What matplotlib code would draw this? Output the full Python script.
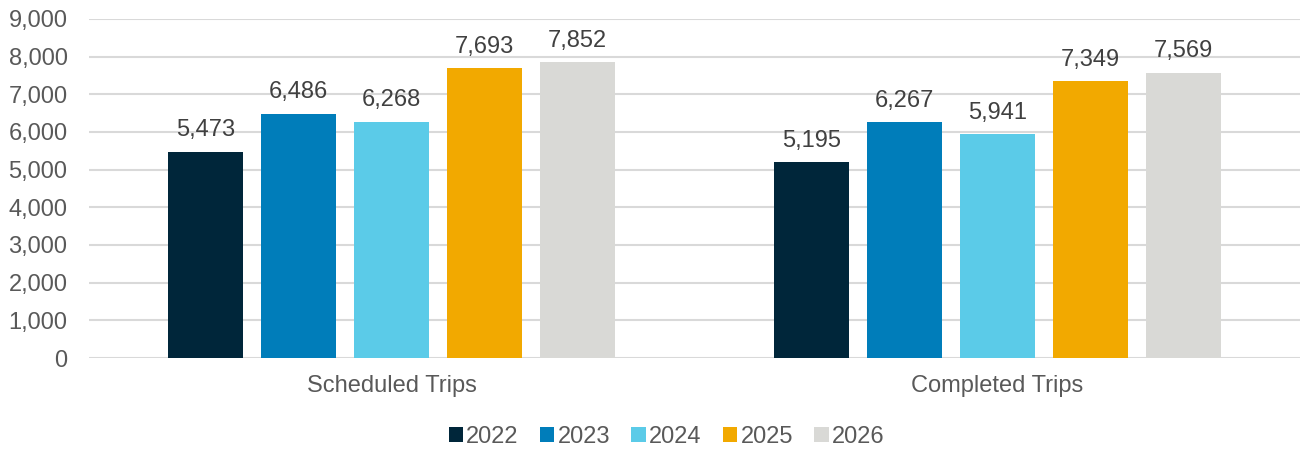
import numpy as np
import matplotlib.pyplot as plt
from matplotlib.patches import Patch

categories = ["Scheduled Trips", "Completed Trips"]
years = ["2022", "2023", "2024", "2025", "2026"]
trips = {
    "2022": [5473, 5195],
    "2023": [6486, 6267],
    "2024": [6268, 5941],
    "2025": [7693, 7349],
    "2026": [7852, 7569],
}
colors = ["#00263A", "#007DBA", "#5BCBE8", "#F2A900", "#D9D9D6"]

plt.rcParams["font.family"] = ["Liberation Sans", "DejaVu Sans"]
text_color = "#595959"
fs = 17

fig = plt.figure(figsize=(13.02, 4.51), dpi=100)
ax = fig.add_axes([0.0684, 0.2062, 0.9300, 0.7517])

x = np.arange(len(categories))
step = 0.1536
width = 0.124
for i, yr in enumerate(years):
    pos = x + (i - 2) * step
    bars = ax.bar(pos, trips[yr], width, color=colors[i], zorder=3)
    for b, v in zip(bars, trips[yr]):
        ax.annotate(f"{v:,}", (b.get_x() + b.get_width() / 2, v),
                    xytext=(0, 7.5), textcoords="offset points",
                    ha="center", va="bottom", fontsize=fs, color="#404040")

ax.set_xlim(-0.5, 1.5)
ax.set_ylim(0, 9000)
ax.set_yticks(range(0, 9001, 1000))
ax.yaxis.set_major_formatter(plt.FuncFormatter(lambda v, p: f"{int(v):,}"))
ax.set_xticks(x)
ax.set_xticklabels(categories)
ax.tick_params(axis="both", length=0, labelsize=fs, labelcolor=text_color)
ax.tick_params(axis="y", pad=15.5)
ax.tick_params(axis="x", pad=12)
ax.grid(axis="y", color="#D9D9D9", linewidth=1.5, zorder=0)
for s in ax.spines.values():
    s.set_visible(False)

handles = [Patch(facecolor=c, edgecolor="none") for c in colors]
fig.legend(handles, years, loc="center", bbox_to_anchor=(0.512, 0.031),
           ncol=5, frameon=False, fontsize=fs, labelcolor=text_color,
           handlelength=0.6, handleheight=0.6, handletextpad=0.15,
           columnspacing=0.9)

fig.savefig("out.png", dpi=100)
